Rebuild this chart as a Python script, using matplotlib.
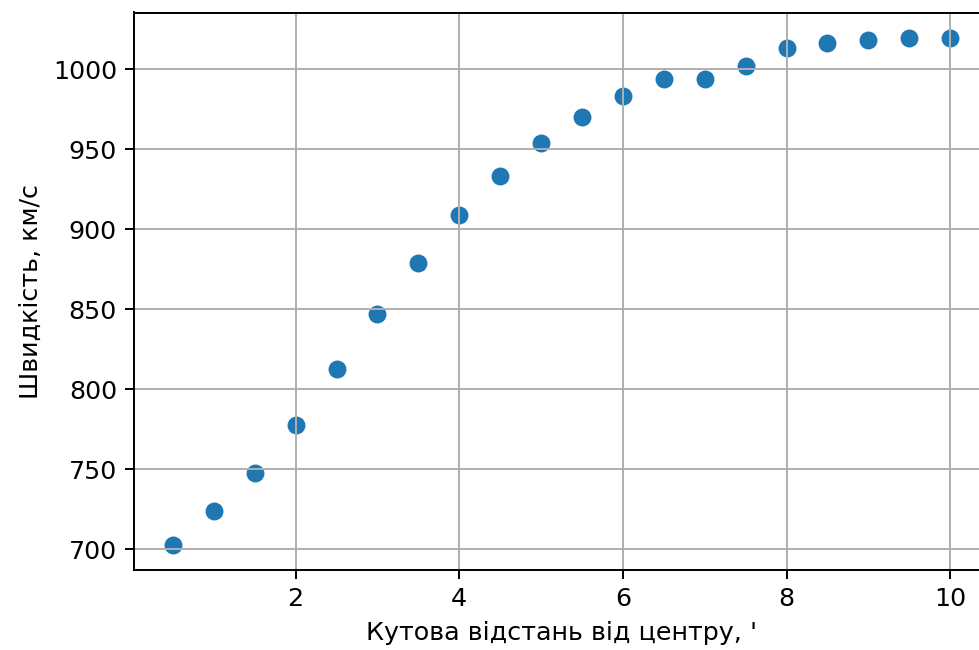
import numpy as np
import matplotlib.pyplot as plt

# Кутова відстань (кутові хвилини) та швидкість обертання
distance = [0.5, 1.0, 1.5, 2.0, 2.5, 3.0, 3.5, 4.0, 4.5, 5.0,
            5.5, 6.0, 6.5, 7.0, 7.5, 8.0, 8.5, 9.0, 9.5, 10.0]
velocity = [703, 724, 748, 778, 813, 847, 879, 909, 933, 954,
            970, 983, 994, 994, 1002, 1013, 1016, 1018, 1019.5, 1019.5]

plt.rcParams['font.size'] = 10.4

dpi = 176
fig = plt.figure(figsize=(979 / dpi, 650 / dpi), dpi=dpi)
ax = fig.add_axes([134 / 979, 80 / 650, 855 / 979, 557.5 / 650])

ax.scatter(distance, velocity, s=40)
ax.grid(True)
ax.set_xlabel("Кутова відстань від центру, '")
ax.set_ylabel("Швидкість, км/с")

fig.savefig("out.png", dpi=dpi)
